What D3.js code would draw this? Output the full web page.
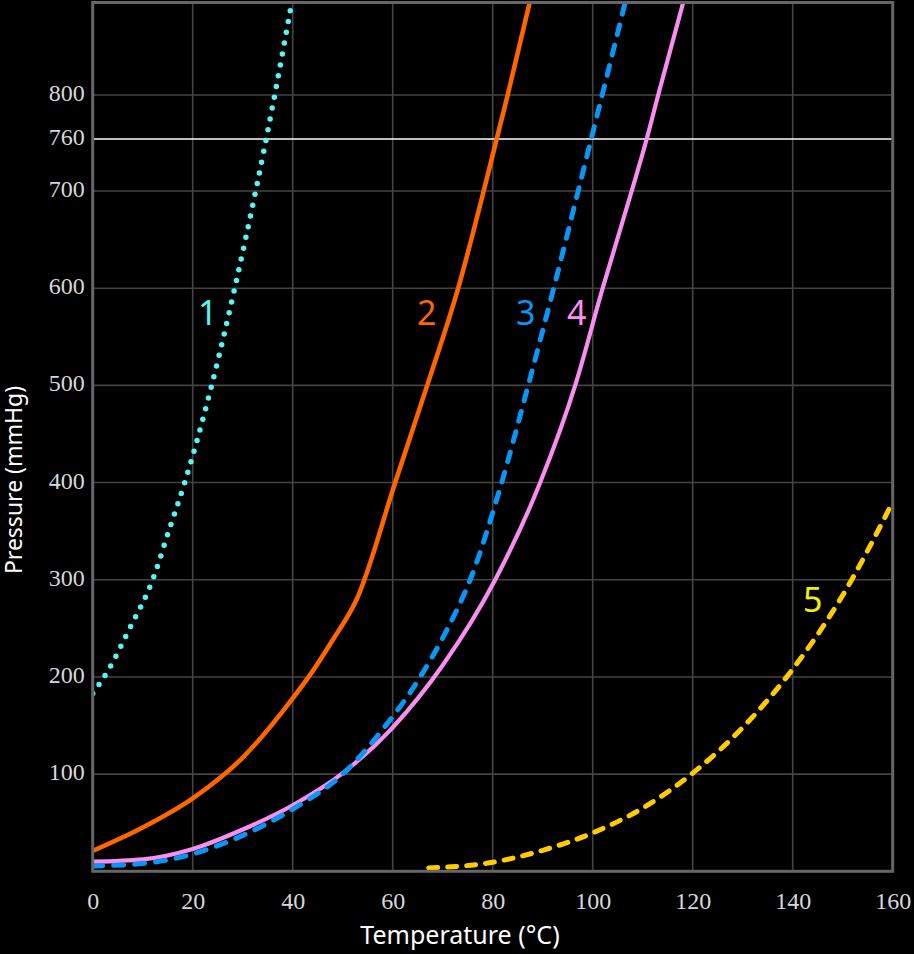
<!DOCTYPE html>
<html>
<head>
<meta charset="utf-8">
<script src="https://cdn.jsdelivr.net/npm/d3@7"></script>
<style>
  html, body { margin: 0; padding: 0; background: #000; }
  svg { display: block; }
</style>
</head>
<body>
<script>
// ---- Data ----
const xTicks = [0, 20, 40, 60, 80, 100, 120, 140, 160];
const yTicks = [100, 200, 300, 400, 500, 600, 700, 800];
const refPressure = 760;

const s1T = [0, 3, 7.4, 12, 15.2, 18.4, 23.8, 28.4, 32.6, 34.7, 36.4, 39.8];
const s1P = [183, 206, 250, 300, 350, 400, 500, 600, 700, 760, 800, 895];

const s2T = [0, 10, 20, 30, 40, 44, 48, 52.9, 60.5, 66.9, 73.1, 78.2, 80.8, 83, 87.4];
const s2P = [21, 45, 75, 117, 178, 206, 238, 281, 400, 500, 600, 700, 760, 800, 895];

const s3T = [0, 10, 20, 30, 40, 50, 58, 65.5, 71, 75.5, 81.8, 87.1, 92.2, 97.1, 99.7, 101.9, 106.5];
const s3P = [5.5, 8, 17.8, 37, 64, 100, 146, 200, 250, 300, 400, 500, 600, 700, 760, 800, 895];

const s4T = [0, 10, 20, 30, 40, 50, 60, 70, 80.5, 89.5, 96.5, 102, 107.8, 110.8, 113.1, 118.1];
const s4P = [9.9, 12.3, 23, 43, 68, 101, 148, 212, 300, 400, 500, 600, 700, 760, 800, 895];

const s5T = [67.2, 80, 90, 100, 110, 120, 130, 140, 150, 160];
const s5P = [3.4, 9.3, 21.6, 39.5, 65, 101, 148, 208, 284, 380];

const seriesNames = ["1", "2", "3", "4", "5"];
const labelT = [23, 66.8, 86.6, 96.8, 144];
const labelP = [572, 572, 572, 572, 276];

// ---- Layout ----
const W = 914, H = 954;
const mLeft = 92.7, mRight = 892.7, mTop = 2.5, mBottom = 871.3;

const svg = d3.select("body").append("svg").attr("width", W).attr("height", H)
  .style("background", "#000");

const x = d3.scaleLinear().domain([0, 160]).range([mLeft, mRight]);
const y = d3.scaleLinear().domain([0, 700, 760, 800, 895]).range([mBottom, 191, 139, 95, mTop]);

svg.append("defs").append("clipPath").attr("id", "plot")
  .append("rect").attr("x", mLeft).attr("y", mTop).attr("width", mRight - mLeft).attr("height", mBottom - mTop);

// grid
const grid = svg.append("g");
grid.selectAll("line.v").data(xTicks.slice(1, -1)).join("line").attr("class", "v")
  .attr("x1", d => x(d)).attr("x2", d => x(d)).attr("y1", mTop).attr("y2", mBottom)
  .attr("stroke", "#444").attr("stroke-width", 1.6);
grid.selectAll("line.h").data(yTicks).join("line").attr("class", "h")
  .attr("x1", mLeft).attr("x2", mRight).attr("y1", d => y(d)).attr("y2", d => y(d))
  .attr("stroke", "#444").attr("stroke-width", 1.6);

// 760 reference line
svg.append("line").attr("x1", mLeft).attr("x2", mRight)
  .attr("y1", y(refPressure)).attr("y2", y(refPressure))
  .attr("stroke", "#fff").attr("stroke-width", 1.4);

// axes (labels only)
const xAxis = d3.axisBottom(x).tickValues(xTicks).tickSize(0).tickPadding(0).tickFormat(d3.format("d"));
const gx = svg.append("g").attr("transform", `translate(0,${mBottom})`).call(xAxis);
gx.select(".domain").remove();
gx.selectAll("text").attr("dy", null).attr("y", 32).attr("dominant-baseline", "middle")
  .attr("fill", "#d8d8d8").style("font-family", "'Liberation Serif', 'DejaVu Serif', serif").style("font-size", "24px");

const yAxis = d3.axisLeft(y).tickValues(yTicks.concat([refPressure])).tickSize(0).tickPadding(0).tickFormat(d3.format("d"));
const gy = svg.append("g").attr("transform", `translate(${mLeft},0)`).call(yAxis);
gy.select(".domain").remove();
gy.selectAll("text").attr("dy", null).attr("x", -8).attr("dominant-baseline", "middle")
  .attr("fill", "#d8d8d8").style("font-family", "'Liberation Serif', 'DejaVu Serif', serif").style("font-size", "24px");

// curves
const line = d3.line().x(d => x(d[0])).y(d => y(d[1])).curve(d3.curveMonotoneX);
const curves = [
  {T: s1T, P: s1P, color: "#55f5f5", width: 5.5, dash: "0 11", cap: "round"},
  {T: s2T, P: s2P, color: "#ff6600", width: 4.6, dash: null, cap: "butt"},
  {T: s3T, P: s3P, color: "#0a96f5", width: 5, dash: "10 11", cap: "round"},
  {T: s4T, P: s4P, color: "#f98ef0", width: 4.2, dash: null, cap: "butt"},
  {T: s5T, P: s5P, color: "#ffcc00", width: 5, dash: "9 10", cap: "round"}
];
const labelColors = ["#55f5f5", "#ff6600", "#0a96f5", "#f98ef0", "#f2f200"];

const gc = svg.append("g").attr("clip-path", "url(#plot)");
[4, 3, 2, 1, 0].forEach(i => {
  const c = curves[i];
  const pts = c.T.map((t, k) => [t, c.P[k]]);
  gc.append("path").attr("d", line(pts)).attr("fill", "none")
    .attr("stroke", c.color).attr("stroke-width", c.width)
    .attr("stroke-linecap", c.cap).attr("stroke-linejoin", "round")
    .attr("stroke-dasharray", c.dash);
});

// curve labels
svg.selectAll("text.lab").data(seriesNames).join("text").attr("class", "lab")
  .attr("x", (d, i) => x(labelT[i])).attr("y", (d, i) => y(labelP[i]))
  .attr("text-anchor", "middle").attr("dominant-baseline", "middle")
  .attr("fill", (d, i) => labelColors[i])
  .style("font-family", "'Noto Sans', 'Open Sans', sans-serif").style("font-size", "34px")
  .text(d => d);

// frame
svg.append("rect").attr("x", mLeft).attr("y", mTop).attr("width", mRight - mLeft).attr("height", mBottom - mTop)
  .attr("fill", "none").attr("stroke", "#666").attr("stroke-width", 3);

// axis titles
svg.append("text").attr("x", 460).attr("y", 937).attr("text-anchor", "middle").attr("dominant-baseline", "middle")
  .attr("fill", "#fff").style("font-family", "'Noto Sans', 'Open Sans', sans-serif").style("font-size", "25px")
  .text("Temperature (°C)");
svg.append("text").attr("transform", "translate(16,480) rotate(-90)").attr("text-anchor", "middle").attr("dominant-baseline", "middle")
  .attr("fill", "#fff").style("font-family", "'Noto Sans', 'Open Sans', sans-serif").style("font-size", "23px")
  .text("Pressure (mmHg)");
</script>
</body>
</html>
